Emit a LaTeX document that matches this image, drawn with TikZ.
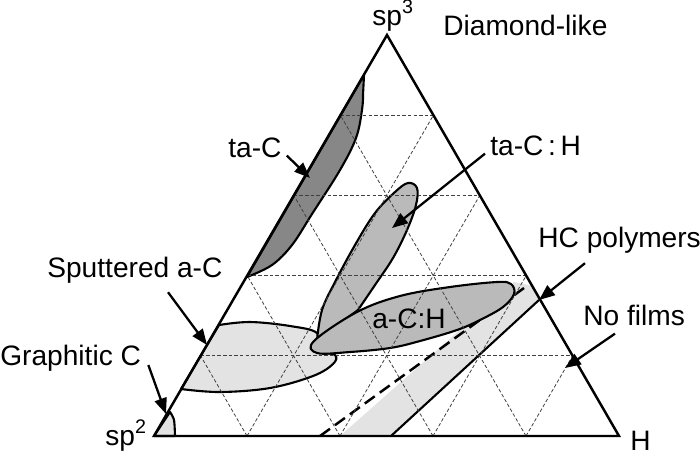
\documentclass[tikz,border=0pt]{standalone}
\usepackage{fontspec}
\setmainfont{Liberation Sans}
\usetikzlibrary{calc,arrows.meta}

\newcommand{\lblsize}{\fontsize{16}{19}\selectfont}

\begin{document}
\begin{tikzpicture}[x=0.2mm, y=-0.2mm,
  tri/.style     ={draw=black, line width=1.4pt, line join=miter},
  gridline/.style={draw=black!75, dash pattern=on 2pt off 1.2pt, line width=0.45pt},
  darkreg/.style ={draw=black, fill=black!47, line width=1.2pt, line join=round},
  midreg/.style  ={draw=black, fill=black!27, line width=1.2pt, line join=round},
  lightreg/.style={draw=black, fill=black!11, line width=1.2pt, line join=round},
  hcline/.style  ={draw=black, line width=1.4pt, dash pattern=on 7pt off 3.5pt},
  arr/.style     ={-{Triangle[length=9pt,width=7pt]}, line width=1.3pt},
  lbl/.style     ={font=\lblsize, inner sep=0pt, anchor=base west}]

  \useasboundingbox (0,0) rectangle (700,455);

  % ---------------- corners of the ternary diagram ----------------
  \coordinate (sp2) at (154,436);
  \coordinate (sp3) at (387,35);
  \coordinate (Hc)  at (619,436);

  % ---------------- regions (bottom layers first) ----------------
  % sputtered a-C
  \filldraw[lightreg] (219,325) -- (181,389)
    -- plot[smooth,tension=0.6] coordinates {(181,389) (220,392) (270,388) (313,376) (333,364) (335,355) (318,350) (317,333) (290,326) (250,322) (219,325)} -- cycle;
  % graphitic C
  \filldraw[lightreg] (sp2) -- (170,412)
    -- plot[smooth] coordinates {(170,412) (174,420) (175,436)} -- cycle;
  % HC polymers band + dashed boundary
  \fill[black!11] (340,436) -- (391,436) -- (539,300) -- (533,286) -- (514,282) -- cycle;
  \draw[line width=1.2pt] (391,436) -- (539,300);
  \draw[hcline] (320,436) -- (524,288);
  % ta-C
  \filldraw[darkreg] (364,75) -- (247,277)
    -- plot[smooth,tension=0.6] coordinates {(247,277) (272,265) (292,245) (312,214) (340,170) (356,138) (362,110) (363,95)} -- cycle;
  % ta-C:H
  \filldraw[midreg] (317,340)
    -- plot[smooth,tension=0.6] coordinates {(317,340) (322,310) (335,282) (355,245) (375,213) (395,192) (408,183) (417,188) (416,205) (407,230) (393,258) (375,285) (358,310)} -- cycle;
  % a-C:H
  \filldraw[midreg] plot[smooth cycle,tension=0.6] coordinates {(314,341) (357,312) (400,296) (450,287) (497,282) (511,284) (514,294) (503,307) (480,320) (457,330) (420,341) (390,348) (350,352) (317,353)};

  % ---------------- grid ----------------
  \foreach \k in {1,...,4}{
    \draw[gridline] ($(sp2)!\k/5!(sp3)$) -- ($(Hc)!\k/5!(sp3)$);
    \draw[gridline] ($(sp2)!\k/5!(Hc)$) -- ($(sp3)!\k/5!(Hc)$);
    \draw[gridline] ($(Hc)!\k/5!(sp2)$) -- ($(sp3)!\k/5!(sp2)$);
  }

  % ---------------- triangle ----------------
  \draw[tri] (sp2) -- (sp3) -- (Hc) -- cycle;

  % ---------------- labels ----------------
  \node[lbl] (spthree) at (372,25)  {sp\textsuperscript{3}};
  \node[lbl] (dia)     at (443,35)  {Diamond-like};
  \node[lbl] (taC)     at (228,157) {ta-C};
  \node[lbl] (taCH)    at (490,155) {ta-C\,:\,H};
  \node[lbl] (hcp)     at (538,247) {HC polymers};
  \node[lbl] (nof)     at (583,325) {No films};
  \node[lbl] (spc)     at (47,277)  {Sputtered a-C};
  \node[lbl] (aCH)     at (372,328) {a-C:H};
  \node[lbl] (graC)    at (0,365)   {Graphitic C};
  \node[lbl] (sptwo)   at (105,445) {sp\textsuperscript{2}};
  \node[lbl] (Hlbl)    at (630,450) {H};

  % ---------------- arrows ----------------
  \coordinate (taC tip)  at (310,178);
  \coordinate (taCH tip) at (392,228);
  \coordinate (hcp tip)  at (539,300);
  \coordinate (nof tip)  at (565,368);
  \coordinate (spc tip)  at (207,345);
  \coordinate (graC tip) at (166,414);
  \draw[arr] ([shift={(5,-2)}]taC.south east) -- (taC tip);
  \draw[arr] ([shift={(-5,-2)}]taCH.south west) -- (taCH tip);
  \draw[arr] ([shift={(47,10)}]hcp.south west) -- (hcp tip);
  \draw[arr] ([shift={(32,8)}]nof.south west) -- (nof tip);
  \draw[arr] ([shift={(121,9)}]spc.south west) -- (spc tip);
  \draw[arr] ([shift={(7,0)}]graC.base east) -- (graC tip);
\end{tikzpicture}
\end{document}
